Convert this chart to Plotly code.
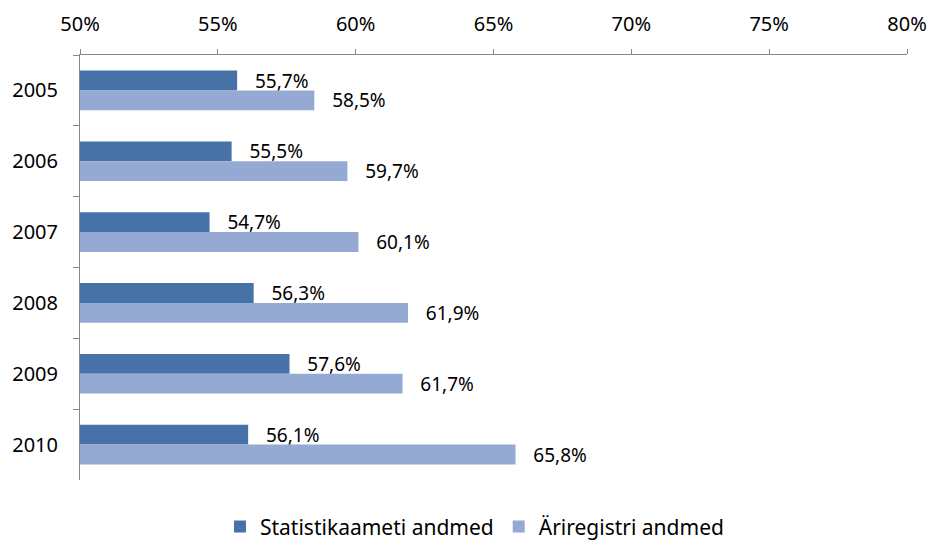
import plotly.graph_objects as go

years = ["2005", "2006", "2007", "2008", "2009", "2010"]
stat_values = [0.557, 0.555, 0.547, 0.563, 0.576, 0.561]
arireg_values = [0.585, 0.597, 0.601, 0.619, 0.617, 0.658]
series_names = ["Statistikaameti andmed", "Äriregistri andmed"]
tick_vals = [0.50, 0.55, 0.60, 0.65, 0.70, 0.75, 0.80]

dark = "#4672A8"
light = "#95AAD2"
font_family = "Noto Sans, Open Sans, sans-serif"

def fmt(v):
    return "   " + f"{v*100:.1f}".replace(".", ",") + "%"

fig = go.Figure()
for vals, name, col in [(stat_values, series_names[0], dark), (arireg_values, series_names[1], light)]:
    fig.add_trace(go.Bar(
        y=years, x=vals, orientation="h", name=name,
        marker=dict(color=col, line=dict(width=0)),
        text=[fmt(v) for v in vals], textposition="outside",
        constraintext="none",
        textfont=dict(size=19, color="#000000", family=font_family),
        cliponaxis=False,
    ))

fig.update_layout(
    width=930, height=540,
    margin=dict(l=80, r=23, t=55, b=60, autoexpand=False),
    paper_bgcolor="white", plot_bgcolor="white",
    barmode="group", bargap=0.44, bargroupgap=0,
    font=dict(family=font_family, size=19, color="#000000"),
    separators=",.",
    showlegend=True,
    legend=dict(orientation="h", x=0.477, xanchor="center", y=-0.11, yanchor="middle",
                font=dict(size=21), traceorder="normal"),
    xaxis=dict(
        side="top", range=[0.5, 0.8], tickvals=tick_vals, tickformat=".0%",
        showgrid=False, zeroline=False, showline=True, linecolor="#868686", linewidth=1,
        ticks="outside", ticklen=5, tickcolor="#868686", tickfont=dict(size=20),
        ticklabelstandoff=10, automargin=False,
    ),
    yaxis=dict(
        categoryorder="array", categoryarray=years, range=[5.5, -0.5],
        showgrid=False, zeroline=False, showline=True, linecolor="#868686", linewidth=1,
        ticks="outside", ticklen=6, tickcolor="#868686", tickson="boundaries",
        tickfont=dict(size=20), ticklabelstandoff=17, automargin=False,
    ),
)

fig.write_html("out.html")
